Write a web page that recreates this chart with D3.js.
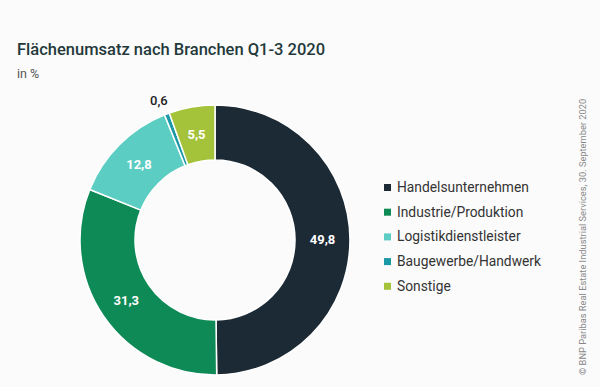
<!DOCTYPE html>
<html><head><meta charset="utf-8">
<script src="https://cdn.jsdelivr.net/npm/d3@7"></script>
<style>body{margin:0;background:#fbfbfb}svg{display:block}</style>
</head><body>
<svg id="c" width="600" height="387"></svg>
<script>
const categories = ["Handelsunternehmen","Industrie/Produktion","Logistikdienstleister","Baugewerbe/Handwerk","Sonstige"];
const values = [49.8, 31.3, 12.8, 0.6, 5.5];
const valueLabels = ["49,8","31,3","12,8","0,6","5,5"];
const colors = ["#1c2a35","#0e8a56","#5ccdc2","#1b98a6","#a5c23b"];

const svg = d3.select("#c");
const font = "Roboto, 'Open Sans', sans-serif";
svg.append("rect").attr("width",600).attr("height",387).attr("fill","#fbfbfb");

svg.append("text").attr("x",17).attr("y",55).text("Flächenumsatz nach Branchen Q1-3 2020")
  .attr("font-family",font).attr("font-size",16.5).attr("fill","#23383a").attr("font-weight",500);
svg.append("text").attr("x",17).attr("y",78).text("in %")
  .attr("font-family",font).attr("font-size",12.5).attr("fill","#555");

const cx=215, cy=240, rOut=135, rIn=80;
const pie = d3.pie().value(d=>d).sort(null);
const arcs = pie(values);
const arc = d3.arc().innerRadius(rIn).outerRadius(rOut);
const g = svg.append("g").attr("transform",`translate(${cx},${cy})`);
g.selectAll("path").data(arcs).join("path").attr("d",arc)
  .attr("fill",(d,i)=>colors[i]).attr("stroke","#fff").attr("stroke-width",1.5);

const labArc = d3.arc().innerRadius((rIn+rOut)/2).outerRadius((rIn+rOut)/2);
const outArc = d3.arc().innerRadius(rOut+14).outerRadius(rOut+14);
g.selectAll("text.v").data(arcs).join("text").attr("class","v")
  .attr("transform",(d,i)=>{const p=(values[i]<2?outArc:labArc).centroid(d); if(values[i]<2)p[0]-=3; return `translate(${p})`;})
  .attr("text-anchor","middle").attr("dy","0.35em")
  .attr("font-family",font).attr("font-size",13).attr("font-weight",(d,i)=>values[i]<2?500:700)
  .attr("fill",(d,i)=>values[i]<2?"#222":"#fff")
  .text((d,i)=>valueLabels[i]);

const lg = svg.append("g").attr("transform","translate(384,187)");
const row = lg.selectAll("g").data(categories).join("g").attr("transform",(d,i)=>`translate(0,${i*24.7})`);
row.append("rect").attr("x",0).attr("y",-3).attr("width",7).attr("height",7).attr("fill",(d,i)=>colors[i]);
row.append("text").attr("x",13).attr("dy","0.35em").text(d=>d)
  .attr("font-family",font).attr("font-size",13.8).attr("fill","#333");

svg.append("text").attr("transform","translate(586,375) rotate(-90)")
  .text("© BNP Paribas Real Estate Industrial Services, 30. September 2020")
  .attr("font-family",font).attr("font-size",9.3).attr("fill","#888");
</script>
</body></html>
